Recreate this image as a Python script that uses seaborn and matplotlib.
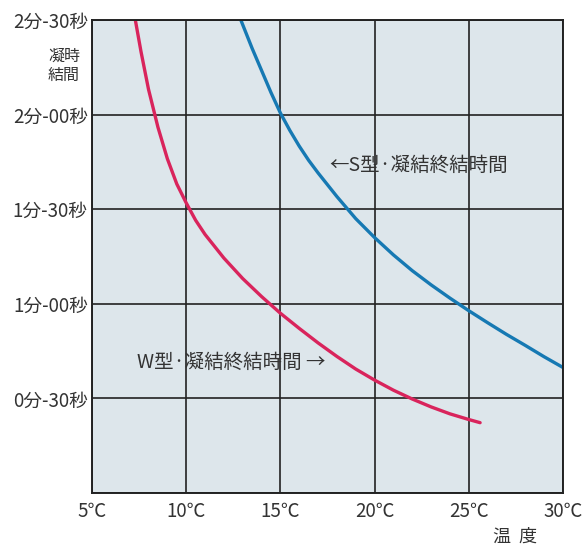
import numpy as np
import pandas as pd
import seaborn as sns
import matplotlib
matplotlib.use('Agg')
import matplotlib.pyplot as plt

# 温度 (℃) と 凝結終結時間 (秒) -- グラフから読み取り
w_temp = [7.3, 7.6, 8.0, 8.5, 9.0, 9.5, 10.0, 10.5, 11.0, 12.0, 13.0, 14.0, 15.0,
          16.0, 17.0, 18.0, 19.0, 20.0, 21.0, 22.0, 23.0, 24.0, 25.0, 25.6]
w_time = [150, 140, 128, 116, 106, 98, 92, 86.5, 82, 74.5, 68, 62.3, 57,
          52.2, 47.6, 43.3, 39.3, 35.8, 32.6, 29.8, 27.3, 25.1, 23.3, 22.3]

s_temp = [12.9, 13.5, 14.0, 14.5, 15.0, 15.5, 16.0, 16.5, 17.0, 18.0, 19.0, 20.0,
          21.0, 22.0, 23.0, 24.0, 25.0, 26.0, 27.0, 28.0, 29.0, 30.0]
s_time = [150, 141, 134, 127, 120.5, 115, 110, 105.5, 101.5, 94, 87, 81,
          75.5, 70.5, 66, 61.8, 57.8, 54, 50.3, 46.8, 43.2, 39.8]

x_ticks = [5, 10, 15, 20, 25, 30]
x_labels = ['5℃', '10℃', '15℃', '20℃', '25℃', '30℃']
y_ticks = [30, 60, 90, 120, 150]
y_labels = ['0分-30秒', '1分-00秒', '1分-30秒', '2分-00秒', '2分-30秒']

sns.set_style('white')
plt.rcParams['font.family'] = ['Noto Sans CJK JP', 'DejaVu Sans']

fig = plt.figure(figsize=(5.86, 5.47), dpi=100)
ax = fig.add_axes([92/586, 1-493/547, (563-92)/586, (493-20)/547])
ax.set_facecolor('#dde6eb')

sns.lineplot(x=w_temp, y=w_time, ax=ax, color='#d9245c', linewidth=2.4, sort=False, estimator=None)
sns.lineplot(x=s_temp, y=s_time, ax=ax, color='#1679b3', linewidth=2.4, sort=False, estimator=None)

ax.set_xlim(5, 30)
ax.set_ylim(0, 150)
ax.set_xticks(x_ticks)
ax.set_xticklabels(x_labels)
ax.set_yticks([0] + y_ticks)
ax.set_yticklabels([''] + y_labels)
ax.grid(True, color='#222222', linewidth=1.2)
ax.set_axisbelow(True)
for s in ax.spines.values():
    s.set_color('#222222')
    s.set_linewidth(1.4)
ax.tick_params(length=0, labelsize=13.5, colors='#333333', pad=3)
ax.tick_params(axis='x', pad=6)

ax.text(17.6, 104, '←S型·凝結終結時間', fontsize=14, color='#333333', va='center', ha='left')
ax.text(7.4, 41.5, 'W型·凝結終結時間 →', fontsize=14, color='#333333', va='center', ha='left')

fig.text(64/586, 1-66/547, '凝時\n結間', fontsize=11.5, color='#333333', ha='center', va='center',
         linespacing=1.15)
fig.text(515/586, 1-537/547, '温  度', fontsize=13, color='#333333', ha='center', va='center')

fig.savefig('out.png', dpi=100, facecolor='white')
